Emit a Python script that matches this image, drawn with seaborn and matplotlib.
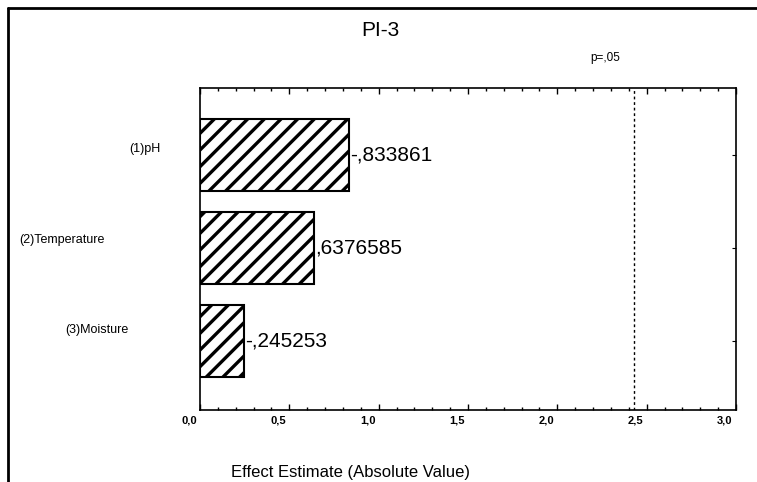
import numpy as np
import pandas as pd
import matplotlib
matplotlib.use("Agg")
import matplotlib.pyplot as plt
from matplotlib.lines import Line2D
from matplotlib.ticker import MultipleLocator, FuncFormatter
from matplotlib.transforms import ScaledTranslation
import seaborn as sns

# Pareto chart data
factors = ["(1)pH", "(2)Temperature", "(3)Moisture"]
effects = [-0.833861, 0.6376585, -0.245253]
effect_labels = ["-,833861", ",6376585", "-,245253"]
p_crit = 2.43
p_label = "p=,05"

sns.set_style("white")
plt.rcParams["font.family"] = ["Liberation Sans", "DejaVu Sans"]
plt.rcParams["text.color"] = "black"
plt.rcParams["xtick.color"] = "black"
plt.rcParams["ytick.color"] = "black"
plt.rcParams["axes.labelcolor"] = "black"
plt.rcParams["hatch.linewidth"] = 2.4
plt.rcParams["hatch.color"] = "black"

df = pd.DataFrame({"factor": factors, "effect": np.abs(effects)})

fig = plt.figure(figsize=(7.57, 4.82), dpi=100)
ax = fig.add_axes([200 / 757, 1 - 410 / 482, 536 / 757, 322 / 482])

sns.barplot(data=df, x="effect", y="factor", orient="h", color="white",
            edgecolor="black", linewidth=1.5, width=0.78, ax=ax)
for bar in ax.patches:
    bar.set_hatch("//")
    bar.set_facecolor("white")

for bar, lab in zip(ax.patches, effect_labels):
    ax.text(bar.get_width() + 0.005, bar.get_y() + bar.get_height() / 2, lab,
            va="center", ha="left", fontsize=15)

ax.axvline(p_crit, color="black", linestyle=(0, (2, 2)), linewidth=1)

ax.set_xlim(0, 3.0)
ax.set_ylim(2.74, -0.72)
ax.xaxis.set_major_locator(MultipleLocator(0.5))
ax.xaxis.set_minor_locator(MultipleLocator(0.1))
ax.xaxis.set_major_formatter(FuncFormatter(lambda v, p: f"{v:.1f}".replace(".", ",")))
ax.tick_params(axis="x", which="both", direction="in", top=True, bottom=True,
               labelsize=8, pad=4)
ax.tick_params(axis="x", which="major", length=4, width=1)
ax.tick_params(axis="x", which="minor", length=2, width=1)
ax.tick_params(axis="y", which="both", direction="in", left=True, right=True,
               length=3, labelsize=9, pad=0)
for t in ax.get_xticklabels():
    t.set_fontweight("bold")
    t.set_transform(t.get_transform() + ScaledTranslation(-0.11, 0, fig.dpi_scale_trans))

# y labels sit a bit above the bar centres, at uneven distances
y_label_shift = [(-0.40, 0.08), (-0.95, 0.10), (-0.72, 0.13)]
for t, (dx, dy) in zip(ax.get_yticklabels(), y_label_shift):
    t.set_transform(t.get_transform() + ScaledTranslation(dx, dy, fig.dpi_scale_trans))

for s in ax.spines.values():
    s.set_visible(True)
    s.set_color("black")
    s.set_linewidth(1.2)

ax.set_ylabel("")
ax.set_xlabel("Effect Estimate (Absolute Value)", fontsize=12)
ax.xaxis.set_label_coords(0.28, -0.17)

fig.text(380 / 757, 1 - 30 / 482, "PI-3", ha="center", va="center", fontsize=15)
fig.text(605 / 757, 1 - 58 / 482, p_label, ha="center", va="center", fontsize=8.5)

# outer frame
fig.add_artist(Line2D([8 / 757, 8 / 757], [0, 1 - 8 / 482], color="black", lw=2))
fig.add_artist(Line2D([8 / 757, 1], [1 - 8 / 482, 1 - 8 / 482], color="black", lw=2))

fig.savefig("out.png", dpi=100)
